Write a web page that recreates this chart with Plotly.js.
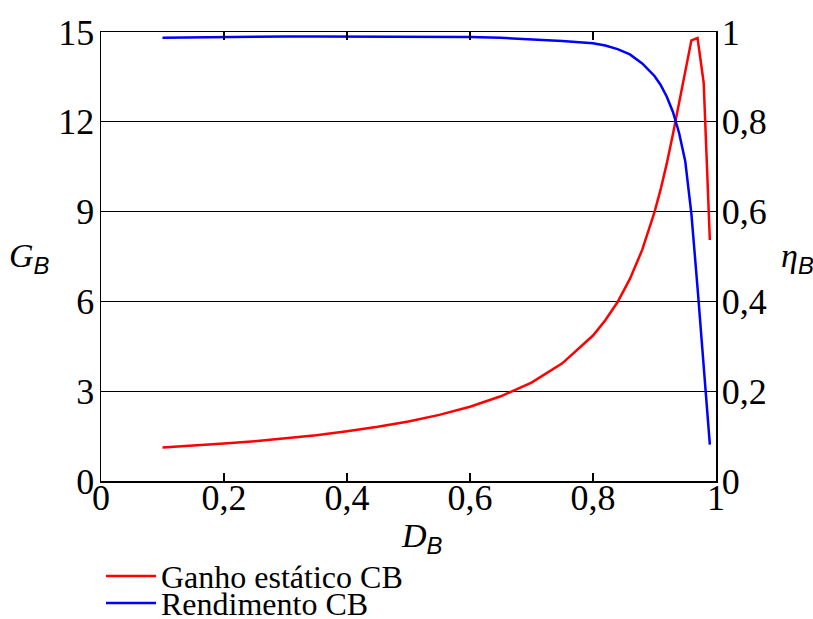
<!DOCTYPE html>
<html>
<head>
<meta charset="utf-8">
<script src="https://cdn.plot.ly/plotly-3.0.1.min.js"></script>
<style>html,body{margin:0;padding:0;background:#fff;}#chart{width:813px;height:619px;}</style>
</head>
<body>
<div id="chart"></div>
<script>
// Duty cycle D_B
const dutyCycle = [0.10,0.15,0.20,0.25,0.30,0.35,0.40,0.45,0.50,0.55,0.60,0.65,0.70,0.75,0.80,0.82,0.84,0.86,0.88,0.90,0.91,0.92,0.93,0.94,0.95,0.96,0.97,0.98,0.99];
// Static gain G_B (left axis)
const gainCB = [1.12,1.18,1.25,1.33,1.43,1.53,1.66,1.81,1.99,2.21,2.48,2.83,3.29,3.93,4.86,5.37,5.98,6.75,7.72,8.98,9.74,10.61,11.59,12.66,13.74,14.72,14.80,13.30,8.05];
// Efficiency eta_B (right axis)
const efficiencyCB = [0.987,0.988,0.989,0.989,0.990,0.990,0.990,0.990,0.990,0.990,0.989,0.987,0.984,0.980,0.975,0.970,0.962,0.950,0.930,0.902,0.882,0.856,0.822,0.775,0.712,0.595,0.430,0.245,0.081];

const leftTicks = [0,3,6,9,12,15];
const rightTicks = [0,0.2,0.4,0.6,0.8,1];
const xTicks = [0,0.2,0.4,0.6,0.8,1];
const seriesNames = ['Ganho estático CB','Rendimento CB'];
const axisLabels = {x: 'D', yLeft: 'G', yRight: 'η', sub: 'B'};

const serif = 'Liberation Serif';
const sub = s => '<sub><span style="font-family:Liberation Sans;font-style:italic">' + s + '</span></sub>';

const traces = [
  {x: dutyCycle, y: gainCB, name: seriesNames[0], type: 'scatter', mode: 'lines',
   line: {color: '#ff0000', width: 2.5}, yaxis: 'y', legend: 'legend'},
  {x: dutyCycle, y: efficiencyCB, name: seriesNames[1], type: 'scatter', mode: 'lines',
   line: {color: '#0000ff', width: 2.5}, yaxis: 'y2', legend: 'legend2'}
];

const legendBase = {x: 0.0, xanchor: 'left', yanchor: 'middle', bgcolor: 'rgba(0,0,0,0)',
  font: {family: serif, size: 32, color: '#000'}, itemwidth: 50};

const layout = {
  width: 813, height: 619,
  margin: {l: 101, r: 97, t: 32, b: 138, autoexpand: false},
  paper_bgcolor: '#fff', plot_bgcolor: '#fff',
  separators: ',.',
  font: {family: serif, color: '#000', size: 36},
  showlegend: true,
  legend: Object.assign({}, legendBase, {y: -0.212}),
  legend2: Object.assign({}, legendBase, {y: -0.272}),
  xaxis: {range: [0,1], tickvals: xTicks, ticks: 'inside', ticklen: 8, tickwidth: 1.5, tickcolor: '#000',
          showline: true, linecolor: '#000', linewidth: 1.5, mirror: 'ticks', showgrid: false, zeroline: false,
          tickfont: {family: serif, size: 36, color: '#000'}, ticklabelstandoff: -16},
  yaxis: {range: [0,15], tickvals: leftTicks, ticks: '', showline: true, linecolor: '#000', linewidth: 1.5,
          showgrid: true, gridcolor: '#000', gridwidth: 1.2, zeroline: false,
          tickfont: {family: serif, size: 36, color: '#000'}, ticklabelstandoff: -2},
  yaxis2: {range: [0,1], overlaying: 'y', side: 'right', tickvals: rightTicks, ticks: '', showline: true,
           linecolor: '#000', linewidth: 1.5, showgrid: false, zeroline: false,
           tickfont: {family: serif, size: 36, color: '#000'}, ticklabelstandoff: -3},
  annotations: [
    {xref: 'paper', yref: 'paper', x: 0.522, y: -0.127, xanchor: 'center', yanchor: 'middle', showarrow: false,
     text: '<i>' + axisLabels.x + '</i>' + sub(axisLabels.sub), font: {family: serif, size: 34}},
    {xref: 'paper', yref: 'paper', x: -0.117, y: 0.497, xanchor: 'center', yanchor: 'middle', showarrow: false,
     text: '<i>' + axisLabels.yLeft + '</i>' + sub(axisLabels.sub), font: {family: serif, size: 34}},
    {xref: 'paper', yref: 'paper', x: 1.132, y: 0.497, xanchor: 'center', yanchor: 'middle', showarrow: false,
     text: '<i>' + axisLabels.yRight + '</i>' + sub(axisLabels.sub), font: {family: serif, size: 34}}
  ]
};

Plotly.newPlot('chart', traces, layout, {displayModeBar: false, staticPlot: true});
</script>
</body>
</html>
